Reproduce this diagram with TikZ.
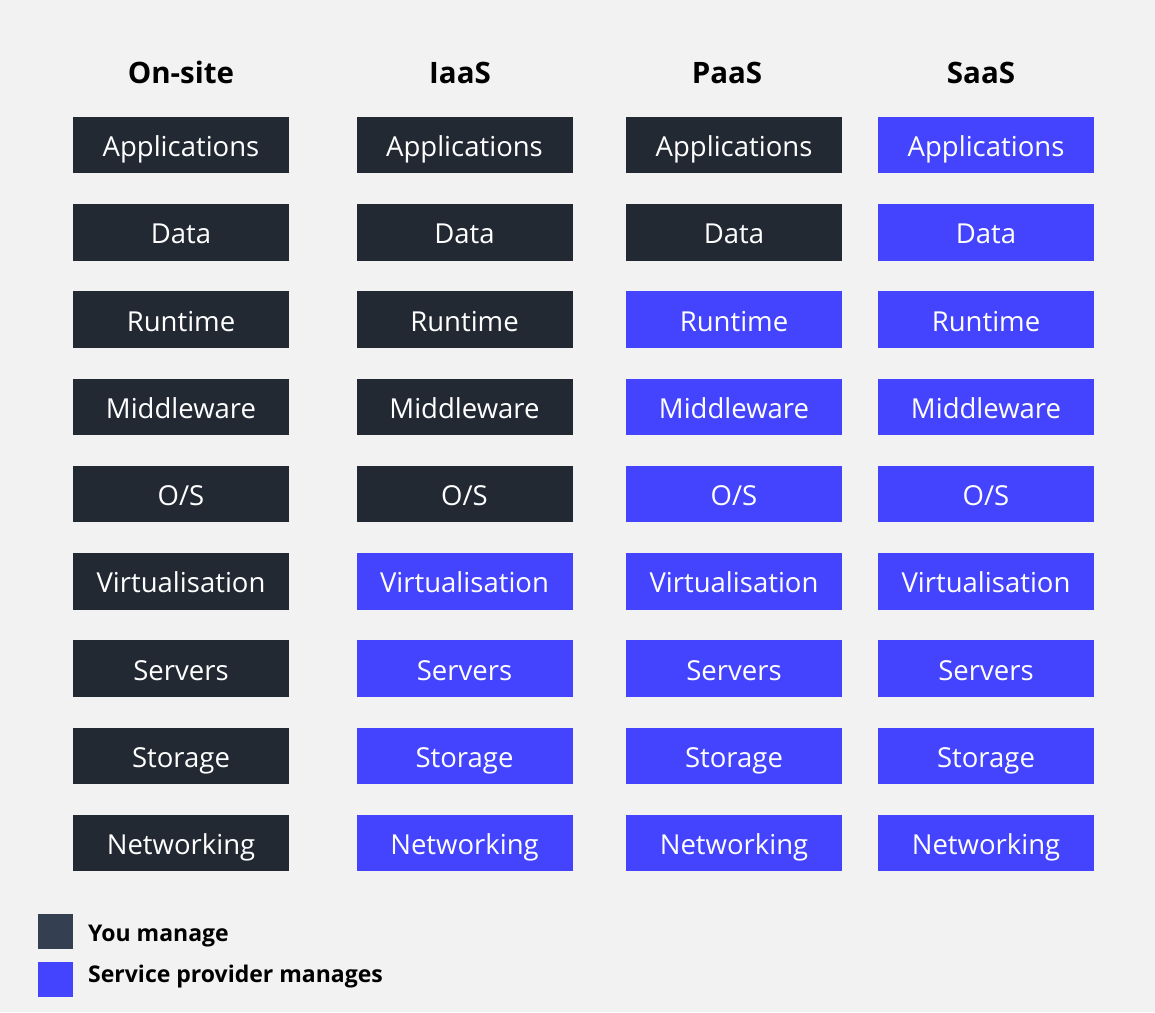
\documentclass[tikz,border=0pt]{standalone}
\usepackage{fontspec}
\setmainfont{Open Sans}
\definecolor{bg}{HTML}{F2F2F2}
\definecolor{dark}{HTML}{222933}
\definecolor{legdark}{HTML}{343F51}
\definecolor{prov}{HTML}{4444FF}
\tikzset{
  layer/.style={minimum width=216pt, minimum height=56.5pt, inner sep=0pt, text height=23pt, text depth=0pt, text=white, font=\fontsize{27.5}{32}\selectfont},
  you/.style={layer, fill=dark},
  sp/.style={layer, fill=prov},
  head/.style={anchor=base, inner sep=0pt, font=\bfseries\fontsize{29.5}{34}\selectfont, text=black},
  legbox/.style={minimum width=35pt, minimum height=35pt, inner sep=0pt},
  legtext/.style={anchor=base west, font=\bfseries\fontsize{23}{27}\selectfont, text=black, inner sep=0pt}
}
\begin{document}
\begin{tikzpicture}[x=1pt,y=-1pt]
\fill[bg] (0,0) rectangle (1155,1012);
\useasboundingbox (0,0) rectangle (1155,1012);
\def\names{Applications,Data,Runtime,Middleware,O/S,Virtualisation,Servers,Storage,Networking}
\node[head] (h1) at (181,83) {On-site};
\node[head] (h2) at (460,83) {IaaS};
\node[head] (h3) at (727,83) {PaaS};
\node[head] (h4) at (981,83) {SaaS};
\foreach \n [count=\i] in \names {
  \pgfmathsetmacro{\yy}{145+(\i-1)*87.25}
  \node[you] (a\i) at (181,\yy) {\n};
  \ifnum\i<6 \node[you] (b\i) at (464.5,\yy) {\n};
  \else \node[sp] (b\i) at (464.5,\yy) {\n}; \fi
  \ifnum\i<3 \node[you] (c\i) at (734,\yy) {\n};
  \else \node[sp] (c\i) at (734,\yy) {\n}; \fi
  \node[sp] (d\i) at (986,\yy) {\n};
}
\node[legbox, fill=legdark] (l1) at (55.5,931) {};
\node[legbox, fill=prov] (l2) at (55.5,979.5) {};
\node[legtext] (t1) at (88,941) {You manage};
\node[legtext] (t2) at (88,982) {Service provider manages};
\end{tikzpicture}
\end{document}
